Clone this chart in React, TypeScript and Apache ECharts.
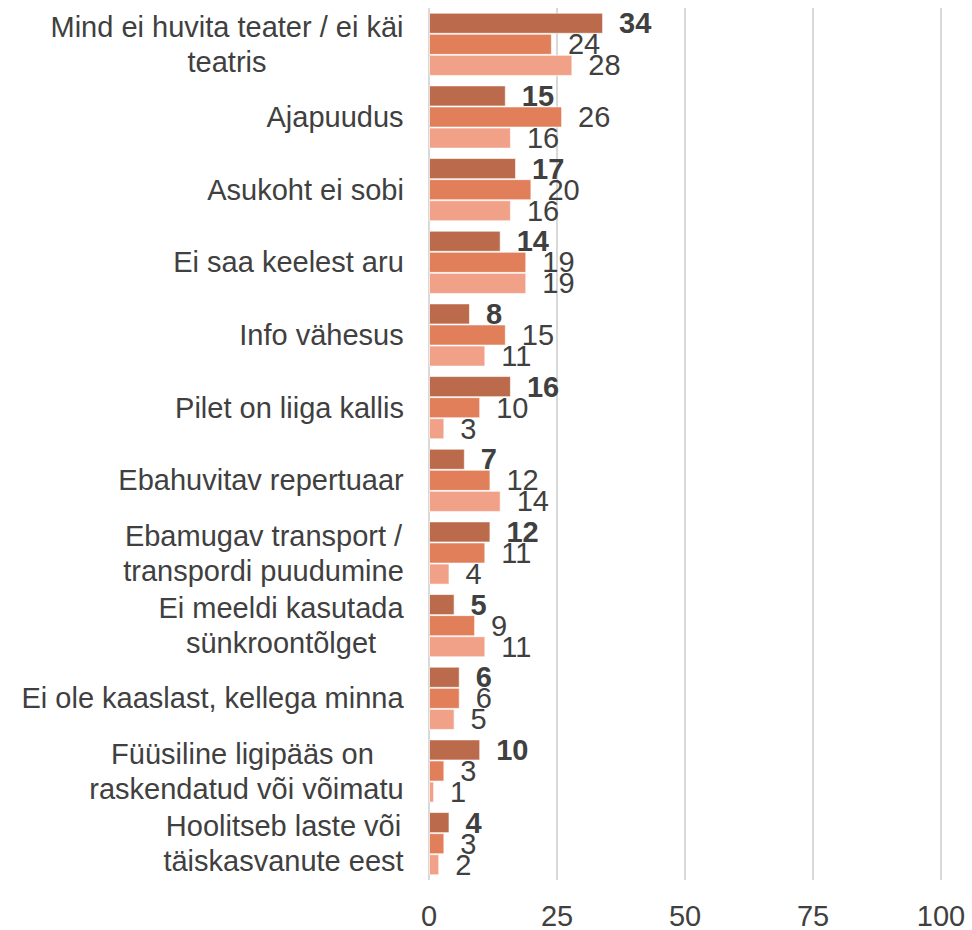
import React, { useEffect, useRef } from "react";
import * as echarts from "echarts";

const categories: string[] = [
  "Mind ei huvita teater / ei käi\nteatris",
  "Ajapuudus",
  "Asukoht ei sobi",
  "Ei saa keelest aru",
  "Info vähesus",
  "Pilet on liiga kallis",
  "Ebahuvitav repertuaar",
  "Ebamugav transport /\ntranspordi puudumine",
  "Ei meeldi kasutada\nsünkroontõlget",
  "Ei ole kaaslast, kellega minna",
  "Füüsiline ligipääs on \nraskendatud või võimatu",
  "Hoolitseb laste või\ntäiskasvanute eest",
];

const series1: number[] = [34, 15, 17, 14, 8, 16, 7, 12, 5, 6, 10, 4];
const series2: number[] = [24, 26, 20, 19, 15, 10, 12, 11, 9, 6, 3, 3];
const series3: number[] = [28, 16, 16, 19, 11, 3, 14, 4, 11, 5, 1, 2];

const xTicks: number[] = [0, 25, 50, 75, 100];

const FONT = "'Liberation Sans', Arial, sans-serif";
const FS = 29;
const TEXT = "#404040";

export default function App() {
  const ref = useRef<HTMLDivElement>(null);

  useEffect(() => {
    if (!ref.current) return;
    const chart = echarts.init(ref.current, undefined, { renderer: "svg" });

    const canvas = document.createElement("canvas");
    const ctx = canvas.getContext("2d")!;
    ctx.font = `${FS}px 'Liberation Sans', Arial, sans-serif`;

    const rich: Record<string, any> = {};
    categories.forEach((c, i) => {
      const lines = c.split("\n");
      const w = Math.max(...lines.map((l) => ctx.measureText(l).width));
      rich["c" + i] = {
        width: Math.ceil(w),
        align: "center",
        fontSize: FS,
        lineHeight: 35,
        fontFamily: FONT,
        color: TEXT,
      };
    });

    const mkSeries = (data: number[], color: string, bold: boolean) => ({
      type: "bar",
      data,
      barGap: "0%",
      barCategoryGap: "13%",
      itemStyle: { color, borderColor: "rgba(255,255,255,0.6)", borderWidth: 1 },
      label: {
        show: true,
        position: "right",
        distance: 16,
        fontSize: FS,
        fontFamily: FONT,
        color: TEXT,
        fontWeight: bold ? "bold" : "normal",
      },
    });

    chart.setOption({
      animation: false,
      grid: { left: 429, right: 31, top: 8, bottom: 48, containLabel: false },
      xAxis: {
        type: "value",
        min: xTicks[0],
        max: xTicks[xTicks.length - 1],
        interval: 25,
        axisLine: { show: false },
        axisTick: { show: false },
        splitLine: { show: true, lineStyle: { color: "#D9D9D9", width: 2 } },
        axisLabel: {
          margin: 21,
          fontSize: FS,
          fontFamily: FONT,
          color: TEXT,
        },
      },
      yAxis: {
        type: "category",
        data: categories,
        inverse: true,
        axisLine: { show: false },
        axisTick: { show: false },
        axisLabel: {
          margin: 25,
          align: "right",
          rich,
          formatter: (value: string, idx: number) =>
            value
              .split("\n")
              .map((l) => `{c${idx}|${l}}`)
              .join("\n"),
        },
      },
      series: [
        mkSeries(series1, "#BB6B4B", true),
        mkSeries(series2, "#E07F59", false),
        mkSeries(series3, "#F2A189", false),
      ],
    });

    return () => chart.dispose();
  }, []);

  return (
    <div
      ref={ref}
      style={{ position: "fixed", left: 0, top: 0, width: 972, height: 930, background: "#fff" }}
    />
  );
}
